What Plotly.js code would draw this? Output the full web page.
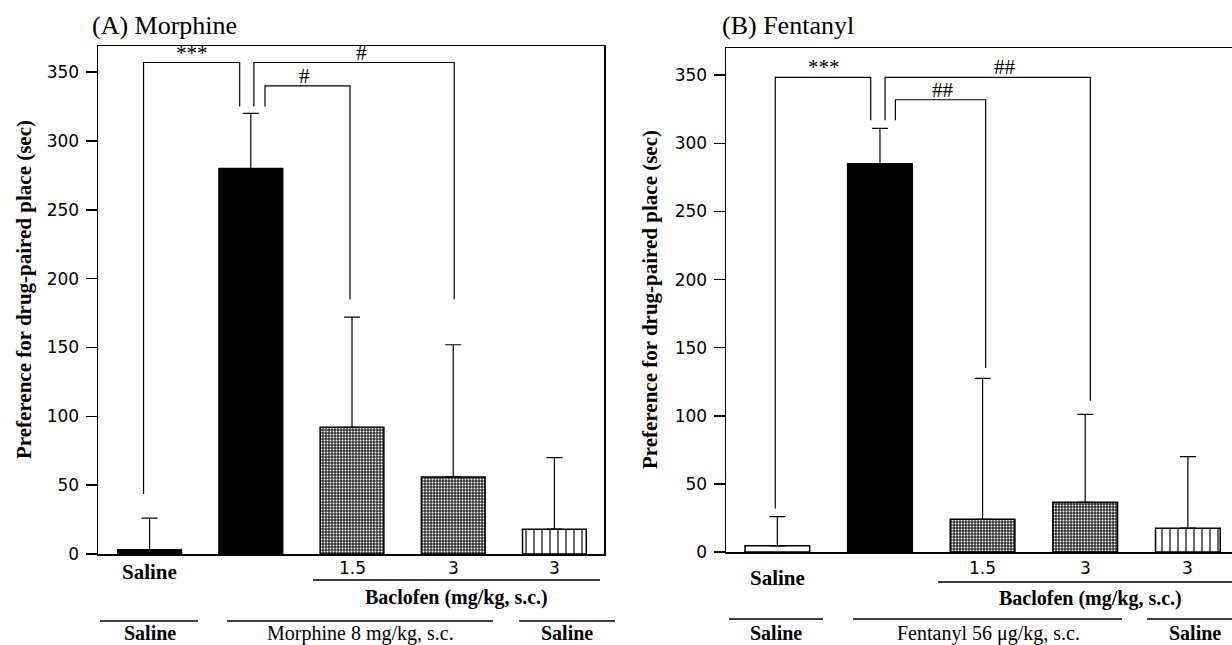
<!DOCTYPE html>
<html>
<head>
<meta charset="utf-8">
<script src="https://cdn.plot.ly/plotly-3.0.1.min.js"></script>
<style>html,body{margin:0;padding:0;background:#fff;}#chart{width:1232px;height:645px;}</style>
</head>
<body>
<div id="chart"></div>
<script>
// ---------- data ----------
const groupIndex = [0, 1, 2, 3, 4];
const doseLabels = ['', '', '1.5', '3', '3'];
const yTicks = [0, 50, 100, 150, 200, 250, 300, 350];

const meanA = [3, 280, 92, 56, 18];
const errA  = [23, 40, 80, 96, 52];
const meanB = [4.5, 285, 24, 36.5, 17.5];
const errB  = [21.5, 26, 103.5, 64.5, 52.5];

const titleA = '(A) Morphine';
const titleB = '(B) Fentanyl';
const yTitle = 'Preference for drug-paired place (sec)';
const treatA = 'Morphine 8 mg/kg, s.c.';
const treatB = 'Fentanyl 56 \u03bcg/kg, s.c.';
const baclofenLabel = 'Baclofen (mg/kg, s.c.)';

// significance brackets (data coordinates)
const sigA_labels = ['***', '#', '#'];
const sigA_x = [[-0.06, -0.06, 0.89, 0.89], [1.03, 1.03, 3.01, 3.01], [1.14, 1.14, 1.98, 1.98]];
const sigA_y = [[43.5, 357, 357, 325], [325, 357, 357, 185], [325, 340, 340, 185]];
const sigA_tx = [0.42, 2.09, 1.53];
const sigA_ty = [357, 357, 340];

const sigB_labels = ['***', '##', '##'];
const sigB_x = [[-0.02, -0.02, 0.91, 0.91], [1.05, 1.05, 3.05, 3.05], [1.15, 1.15, 2.03, 2.03]];
const sigB_y = [[32, 348.5, 348.5, 317], [317, 348.5, 348.5, 111], [317, 332, 332, 135]];
const sigB_tx = [0.45, 2.22, 1.61];
const sigB_ty = [348.5, 348.5, 332];

// ---------- styling ----------
const W = 1232, H = 645;
const px = v => v / W;
const py = v => 1 - v / H;
const SERIF = 'Liberation Serif, Times New Roman, serif';
const SANS = 'DejaVu Sans, sans-serif';

function barTrace(means, errs, xa, ya, fills, shapes) {
  return {
    type: 'bar', x: groupIndex, y: means, xaxis: xa, yaxis: ya,
    width: 0.63,
    marker: {
      color: fills,
      line: {color: 'black', width: 1.5},
      pattern: {
        shape: shapes,
        fgcolor: shapes.map(s => s === '|' ? '#000000' : '#c8c8c8'),
        size: shapes.map(s => s === '|' ? 8 : 3),
        solidity: shapes.map(s => s === '|' ? 0.2 : 0.35),
        fillmode: 'overlay',
        fgopacity: 1
      }
    },
    error_y: {type: 'data', symmetric: false, array: errs, arrayminus: errs.map(() => 0),
              color: 'black', thickness: 1.2, width: 8},
    hoverinfo: 'skip', showlegend: false
  };
}

const traces = [
  barTrace(meanA, errA, 'x', 'y', ['#000000', '#000000', '#2e2e2e', '#2e2e2e', '#ffffff'], ['', '', '.', '.', '|']),
  barTrace(meanB, errB, 'x2', 'y2', ['#ffffff', '#000000', '#2e2e2e', '#2e2e2e', '#ffffff'], ['', '', '.', '.', '|'])
];

function addBrackets(xs, ys, xa, ya) {
  xs.forEach((bx, i) => {
    traces.push({type: 'scatter', mode: 'lines', x: bx, y: ys[i], xaxis: xa, yaxis: ya,
      line: {color: 'black', width: 1.2}, hoverinfo: 'skip', showlegend: false});
  });
}
addBrackets(sigA_x, sigA_y, 'x', 'y');
addBrackets(sigB_x, sigB_y, 'x2', 'y2');

const annotations = [];
function ann(o) { annotations.push(Object.assign({showarrow: false, xanchor: 'center'}, o)); }

// panel titles
ann({text: titleA, xref: 'paper', yref: 'paper', x: px(90), y: py(42), xanchor: 'left', yanchor: 'bottom',
     font: {family: SERIF, size: 26, color: '#000'}});
ann({text: titleB, xref: 'paper', yref: 'paper', x: px(720), y: py(42), xanchor: 'left', yanchor: 'bottom',
     font: {family: SERIF, size: 26, color: '#000'}});

// y titles
ann({text: '<b>' + yTitle + '</b>', xref: 'paper', yref: 'paper', x: px(24), y: py(290), textangle: -90,
     yanchor: 'middle', font: {family: SERIF, size: 21, color: '#000'}});
ann({text: '<b>' + yTitle + '</b>', xref: 'paper', yref: 'paper', x: px(650), y: py(300), textangle: -90,
     yanchor: 'middle', font: {family: SERIF, size: 21, color: '#000'}});

// significance labels
sigA_labels.forEach((t, i) => ann({text: t, xref: 'x', yref: 'y', x: sigA_tx[i], y: sigA_ty[i],
  yanchor: 'bottom', yshift: -4, font: {family: SERIF, size: 21, color: '#000'}}));
sigB_labels.forEach((t, i) => ann({text: t, xref: 'x2', yref: 'y2', x: sigB_tx[i], y: sigB_ty[i],
  yanchor: 'bottom', yshift: -4, font: {family: SERIF, size: 21, color: '#000'}}));

// category labels
ann({text: '<b>Saline</b>', xref: 'x', yref: 'paper', x: 0, y: py(572), yanchor: 'middle',
     font: {family: SERIF, size: 21, color: '#000'}});
ann({text: '<b>Saline</b>', xref: 'x2', yref: 'paper', x: 0, y: py(578), yanchor: 'middle',
     font: {family: SERIF, size: 21, color: '#000'}});
doseLabels.forEach((d, i) => {
  if (!d) return;
  ann({text: d, xref: 'x', yref: 'paper', x: groupIndex[i], y: py(568), yanchor: 'middle',
       font: {family: SANS, size: 17, color: '#000'}});
  ann({text: d, xref: 'x2', yref: 'paper', x: groupIndex[i], y: py(568), yanchor: 'middle',
       font: {family: SANS, size: 17, color: '#000'}});
});
ann({text: '<b>' + baclofenLabel + '</b>', xref: 'paper', yref: 'paper', x: px(456), y: py(597), yanchor: 'middle',
     font: {family: SERIF, size: 20, color: '#000'}});
ann({text: '<b>' + baclofenLabel + '</b>', xref: 'paper', yref: 'paper', x: px(1090), y: py(598), yanchor: 'middle',
     font: {family: SERIF, size: 20, color: '#000'}});

// bottom treatment row
const bottomA = [['<b>Saline</b>', 150], [treatA, 360], ['<b>Saline</b>', 567]];
const bottomB = [['<b>Saline</b>', 776], [treatB, 988], ['<b>Saline</b>', 1195]];
bottomA.concat(bottomB).forEach(([t, x]) => ann({text: t, xref: 'paper', yref: 'paper', x: px(x), y: py(633),
  yanchor: 'middle', font: {family: SERIF, size: 20, color: '#000'}}));

// separator lines
const lineSegs = [
  [313, 600, 580], [100, 198, 621], [227, 493, 621], [519, 615, 621],
  [938, 1232, 582], [729, 823, 619], [853, 1122, 619], [1147, 1232, 619]
];
const shapes = lineSegs.map(([x0, x1, y]) => ({type: 'line', xref: 'paper', yref: 'paper',
  x0: px(x0), x1: px(x1), y0: py(y), y1: py(y), line: {color: '#000', width: 1.5}}));

const yAxisBase = {
  tickvals: yTicks, ticks: 'outside', ticklen: 11, tickwidth: 1.5, tickcolor: '#000',
  tickfont: {family: SANS, size: 17, color: '#000'}, ticklabelstandoff: 3,
  showline: true, linewidth: 1.5, linecolor: '#000', showgrid: false, zeroline: false, fixedrange: true
};
const xAxisBase = {
  showticklabels: false, ticks: '', showline: true, linewidth: 1.5, linecolor: '#000',
  mirror: true, showgrid: false, zeroline: false, fixedrange: true
};

const layout = {
  width: W, height: H, margin: {l: 0, r: 0, t: 0, b: 0},
  paper_bgcolor: '#fff', plot_bgcolor: '#fff', showlegend: false, barmode: 'overlay',
  xaxis: Object.assign({}, xAxisBase, {domain: [px(98), px(604)], range: [-0.51, 4.49]}),
  yaxis: Object.assign({}, yAxisBase, {domain: [py(554), py(46)], range: [0, 369], mirror: true}),
  xaxis2: Object.assign({}, xAxisBase, {domain: [px(726), 1], range: [-0.5, 4.43], anchor: 'y2'}),
  yaxis2: Object.assign({}, yAxisBase, {domain: [py(552), py(48)], range: [0, 370], anchor: 'x2'}),
  annotations: annotations, shapes: shapes
};

Plotly.newPlot('chart', traces, layout, {staticPlot: true, displayModeBar: false});
</script>
</body>
</html>
